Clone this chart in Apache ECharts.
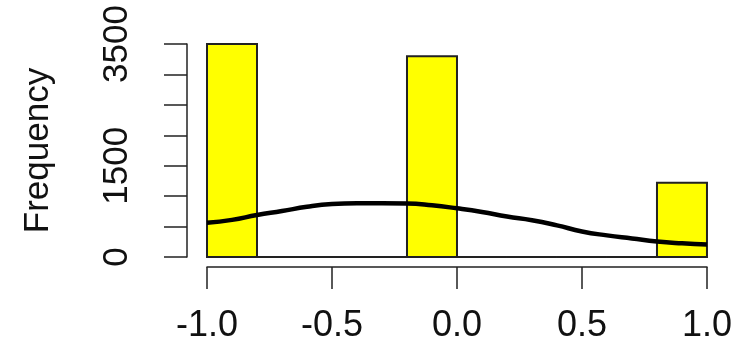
<!DOCTYPE html>
<html>
<head>
<meta charset="utf-8">
<script src="https://cdn.jsdelivr.net/npm/echarts@6/dist/echarts.min.js"></script>
<style>
html,body{margin:0;padding:0;background:#fff;}
#chart{width:735px;height:358px;}
</style>
</head>
<body>
<div id="chart"></div>
<script>
// Histogram bins (start, end) and counts
var binStart = [-1.0, -0.8, -0.6, -0.4, -0.2, 0.0, 0.2, 0.4, 0.6, 0.8];
var binEnd   = [-0.8, -0.6, -0.4, -0.2, 0.0, 0.2, 0.4, 0.6, 0.8, 1.0];
var counts   = [3500, 0, 0, 0, 3300, 0, 0, 0, 0, 1220];

// Density curve (scaled to frequency)
var densityX = [-1.0, -0.9, -0.8, -0.7, -0.6, -0.5, -0.4, -0.3, -0.2, -0.1, 0.0, 0.1, 0.2, 0.3, 0.4, 0.5, 0.6, 0.7, 0.8, 0.9, 1.0];
var densityY = [564, 610, 690, 755, 825, 870, 883, 883, 880, 850, 800, 740, 665, 605, 520, 420, 355, 305, 255, 225, 205];

// Tick labels
var yLabelsShown = [0, 1500, 3500];
var xTicks = [-1.0, -0.5, 0.0, 0.5, 1.0];

var histData = binStart.map(function (s, i) { return [s, binEnd[i], counts[i]]; });
var densityData = densityX.map(function (x, i) { return [x, densityY[i]]; });

var chart = echarts.init(document.getElementById('chart'));
var font = '"Liberation Sans", Arial, sans-serif';
chart.setOption({
  animation: false,
  backgroundColor: '#ffffff',
  grid: { left: 207, right: 26, top: 44, bottom: 101 },
  xAxis: {
    type: 'value', min: -1, max: 1, interval: 0.5,
    offset: 10,
    axisLine: { show: true, onZero: false, lineStyle: { color: '#222', width: 1.5 } },
    axisTick: { show: true, length: 22, lineStyle: { color: '#222', width: 1.5 } },
    axisLabel: {
      margin: 41, fontSize: 36, fontFamily: font, color: '#111',
      formatter: function (v) { return v.toFixed(1); }
    },
    splitLine: { show: false }
  },
  yAxis: {
    type: 'value', min: 0, max: 3500, interval: 500,
    offset: 20,
    name: 'Frequency', nameLocation: 'middle', nameGap: 131,
    nameTextStyle: { fontSize: 35, fontFamily: font, color: '#111' },
    axisLine: { show: true, onZero: false, lineStyle: { color: '#222', width: 1.5 } },
    axisTick: { show: true, length: 23, lineStyle: { color: '#222', width: 1.5 } },
    axisLabel: {
      rotate: 90, margin: 52, fontSize: 35, fontFamily: font, color: '#111',
      formatter: function (v) { return yLabelsShown.indexOf(v) >= 0 ? String(v) : ''; }
    },
    splitLine: { show: false }
  },
  series: [
    {
      type: 'custom',
      data: histData,
      encode: { x: [0, 1], y: 2 },
      renderItem: function (params, api) {
        var p0 = api.coord([api.value(0), 0]);
        var p1 = api.coord([api.value(1), api.value(2)]);
        if (api.value(2) === 0) {
          return {
            type: 'line',
            shape: { x1: p0[0], y1: p0[1], x2: p1[0], y2: p0[1] },
            style: { stroke: '#222', lineWidth: 2 }
          };
        }
        return {
          type: 'rect',
          shape: { x: p0[0], y: p1[1], width: p1[0] - p0[0], height: p0[1] - p1[1] },
          style: { fill: '#ffff00', stroke: '#222', lineWidth: 2 }
        };
      },
      z: 1
    },
    {
      type: 'line',
      data: densityData,
      smooth: true,
      showSymbol: false,
      symbol: 'none',
      lineStyle: { color: '#000', width: 4.5 },
      z: 3
    }
  ]
});
</script>
</body>
</html>
